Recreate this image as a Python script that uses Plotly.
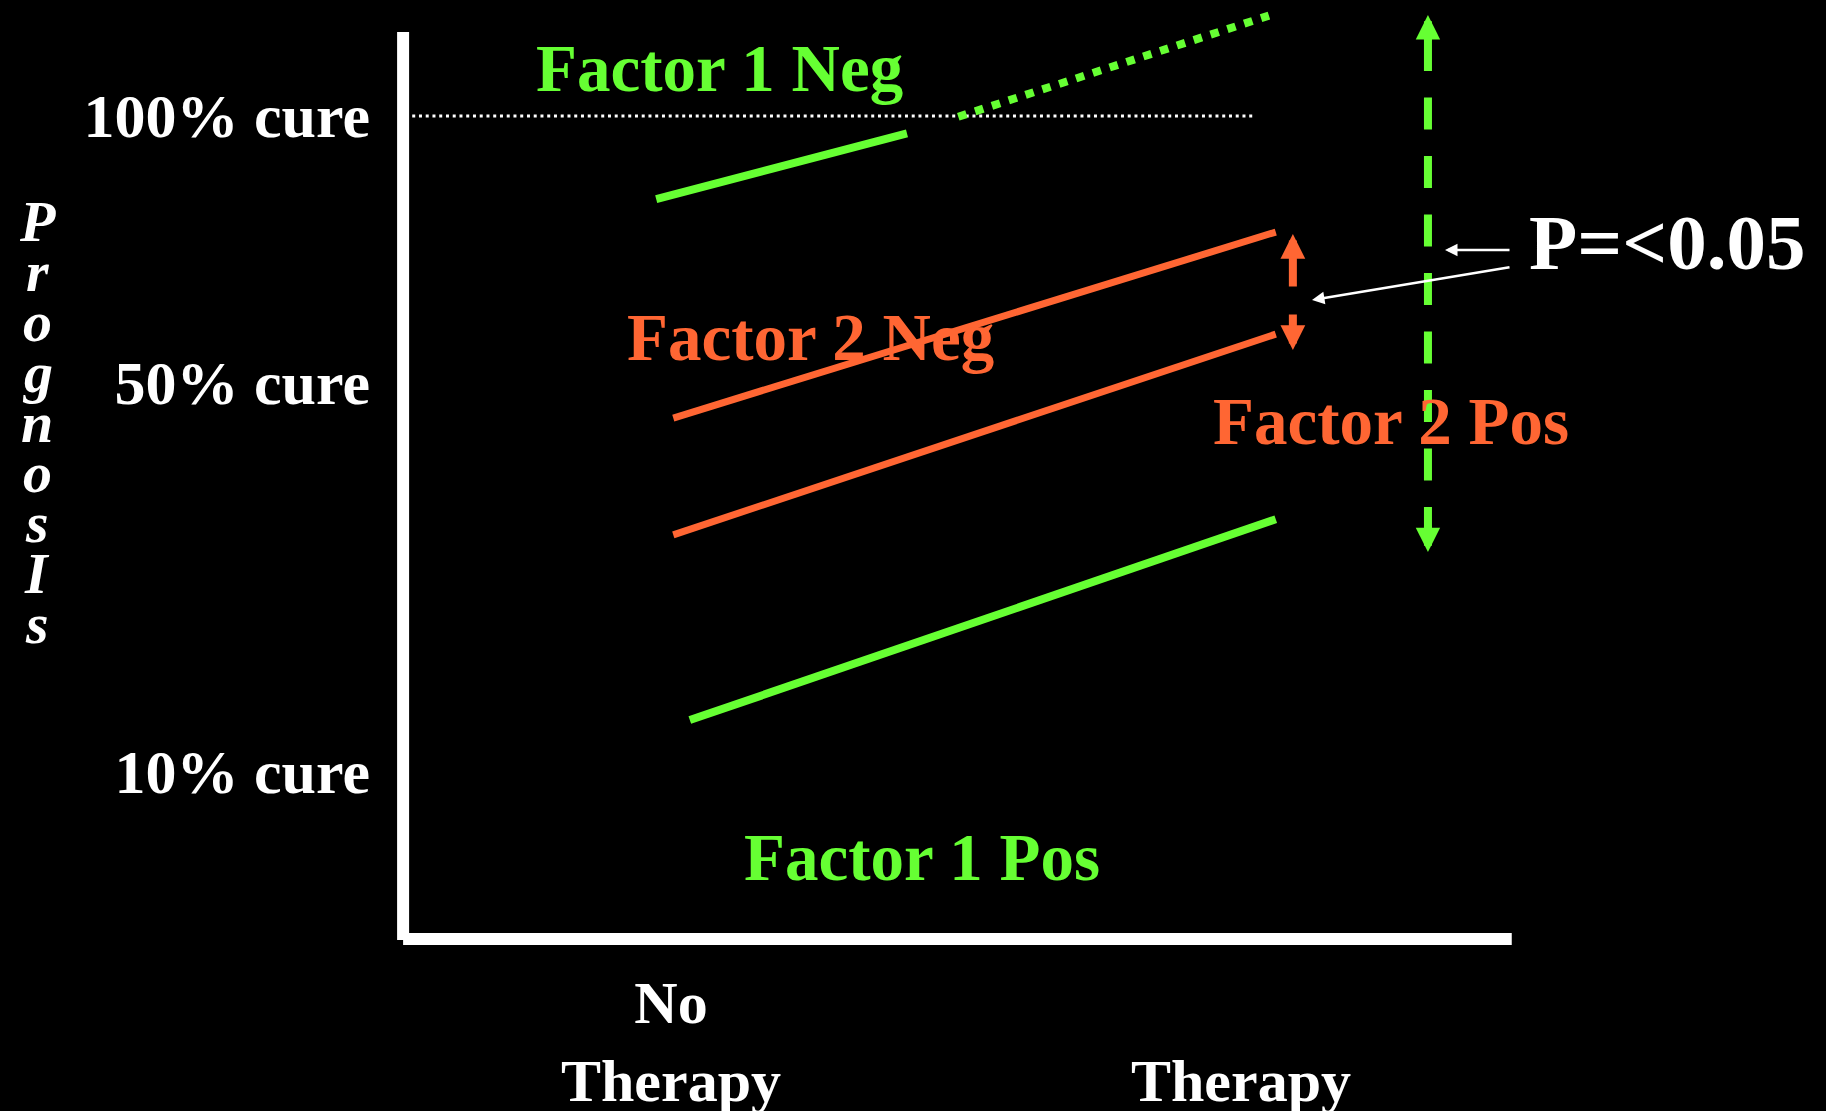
import plotly.graph_objects as go

# ---------------- data ----------------
categories = ["No Therapy", "Therapy"]
category_x = [0, 1]
category_ticktext = ["No<br>Therapy", "<br>Therapy"]

prognosis_labels = ["100% cure", "50% cure", "10% cure"]
prognosis_y = [100.1, 67.6, 20.4]

# schematic prognosis lines (x: 0 = no therapy, 1 = therapy)
f1_neg_x = [-0.026, 0.414]
f1_neg_y = [89.9, 97.9]
f1_neg_ext_x = [0.504, 1.049]
f1_neg_ext_y = [99.9, 112.2]
f2_neg_x = [0.004, 1.061]
f2_neg_y = [63.3, 85.9]
f2_pos_x = [0.004, 1.061]
f2_pos_y = [49.1, 73.5]
f1_pos_x = [0.033, 1.061]
f1_pos_y = [26.6, 51.0]

cure_ref_x = [-0.454, 1.026]
cure_ref_y = [100.0, 100.0]

frame_y_axis_x = [-0.470, -0.470]
frame_y_axis_y = [-0.12, 110.2]
frame_x_axis_x = [-0.470, 1.475]
frame_x_axis_y = [0.0, 0.0]

# effect arrows
f2_gap_x = 1.091
f2_gap_up = [79.1, 85.66]      # tail, tip
f2_gap_down = [76.06, 71.57]   # tail, tip
f1_range_x = 1.328
f1_range_y = [112.27, 47.02]   # top tip, bottom tip
f1_dash_y = [109.36, 49.94]

p_label = "P=<0.05"
p_pos = [1.749, 84.57]
p_arrow1 = [1.4737, 83.72, 1.3579, 83.72]   # tail x, tail y, tip x, tip y
p_arrow2 = [1.4737, 81.65, 1.1246, 77.64]

factor_labels = ["Factor 1 Neg", "Factor 2 Neg", "Factor 2 Pos", "Factor 1 Pos"]
factor_x = [0.0851, 0.2439, 1.2640, 0.4404]
factor_y = [105.89, 73.15, 63.0, 9.96]

y_title_letters = list("PrognosIs")

# ---------------- style ----------------
GREEN = "#66FF33"
ORANGE = "#FF6633"
WHITE = "#FFFFFF"
FONT = "Liberation Serif"
factor_colors = [GREEN, ORANGE, ORANGE, GREEN]

W, H = 1826, 1111
ML, MB = 380, 161
PLOT_H = H - MB

fig = go.Figure()


def seg(x, y, color, width, dash=None):
    fig.add_trace(go.Scatter(
        x=x, y=y, mode="lines", hoverinfo="skip", showlegend=False,
        line=dict(color=color, width=width, dash=dash)))


# axes frame
seg(frame_y_axis_x, frame_y_axis_y, WHITE, 12)
seg(frame_x_axis_x, frame_x_axis_y, WHITE, 12)
# 100% cure reference
seg(cure_ref_x, cure_ref_y, WHITE, 3, "3px,3.75px")

# lines
seg(f1_neg_x, f1_neg_y, GREEN, 8)
seg(f1_neg_ext_x, f1_neg_ext_y, GREEN, 8, "8.6px,9.09px")
seg(f2_neg_x, f2_neg_y, ORANGE, 7)
seg(f2_pos_x, f2_pos_y, ORANGE, 7)
seg(f1_pos_x, f1_pos_y, GREEN, 8)

# dashed vertical range for factor 1
seg([f1_range_x, f1_range_x], f1_dash_y, GREEN, 8, "32px,26.5px")

annotations = []


def arrow(tx, ty, hx, hy, color, width, size):
    annotations.append(dict(
        x=hx, y=hy, ax=tx, ay=ty, xref="x", yref="y", axref="x", ayref="y",
        text="", showarrow=True, arrowhead=2, arrowsize=size,
        arrowwidth=width, arrowcolor=color))


# green range arrowheads
arrow(f1_range_x, f1_dash_y[0] - 0.4, f1_range_x, f1_range_y[0], GREEN, 8, 0.61)
arrow(f1_range_x, f1_dash_y[1] + 0.4, f1_range_x, f1_range_y[1], GREEN, 8, 0.61)
# orange gap arrows
arrow(f2_gap_x, f2_gap_up[0], f2_gap_x, f2_gap_up[1], ORANGE, 8, 0.62)
arrow(f2_gap_x, f2_gap_down[0], f2_gap_x, f2_gap_down[1], ORANGE, 8, 0.62)
# p-value pointers
arrow(p_arrow1[0], p_arrow1[1], p_arrow1[2], p_arrow1[3], WHITE, 2.5, 1.0)
arrow(p_arrow2[0], p_arrow2[1], p_arrow2[2], p_arrow2[3], WHITE, 2.5, 1.0)

for t, x, y, c in zip(factor_labels, factor_x, factor_y, factor_colors):
    annotations.append(dict(
        x=x, y=y, xref="x", yref="y", text=t, showarrow=False,
        xanchor="center", yanchor="middle",
        font=dict(family=FONT, size=67, color=c, weight="bold")))

annotations.append(dict(
    x=p_pos[0], y=p_pos[1], xref="x", yref="y", text=p_label, showarrow=False,
    xanchor="center", yanchor="middle",
    font=dict(family=FONT, size=79, color=WHITE, weight="bold")))

# vertical stacked "PrognosIs" title
LETTER_X_PX = 37
BASE0_PX = 240.7
STEP_PX = 50.3
LETTER_SIZE = 58
for i, ch in enumerate(y_title_letters):
    center_px = BASE0_PX + STEP_PX * i - 0.3375 * LETTER_SIZE
    annotations.append(dict(
        x=(LETTER_X_PX - ML) / (W - ML), y=1 - center_px / PLOT_H,
        xref="paper", yref="paper", text=ch, showarrow=False,
        xanchor="center", yanchor="middle",
        font=dict(family=FONT, size=LETTER_SIZE, color=WHITE,
                  weight="bold", style="italic")))

xtickfont = dict(family=FONT, size=60, color=WHITE, weight="bold")
ytickfont = dict(family=FONT, size=62, color=WHITE, weight="bold")

fig.update_layout(
    width=W, height=H, autosize=False,
    margin=dict(l=ML, r=0, t=0, b=MB, pad=0, autoexpand=False),
    paper_bgcolor="black", plot_bgcolor="black",
    showlegend=False, hovermode=False,
    annotations=annotations,
    xaxis=dict(range=[-0.51053, 2.02631], showgrid=False, zeroline=False,
               showline=False, ticks="", tickvals=category_x,
               ticktext=category_ticktext, tickfont=xtickfont,
               ticklabelstandoff=12, fixedrange=True, automargin=False),
    yaxis=dict(range=[-1.3366, 114.0948], showgrid=False, zeroline=False,
               showline=False, ticks="", tickvals=prognosis_y,
               ticktext=prognosis_labels, tickfont=ytickfont,
               ticklabelstandoff=9, fixedrange=True, automargin=False),
)

fig.write_html(
    "out.html",
    config={"displayModeBar": False},
    post_script="document.body.style.margin='0';"
                "document.body.style.background='black';"
                "document.body.style.overflow='hidden';",
)
